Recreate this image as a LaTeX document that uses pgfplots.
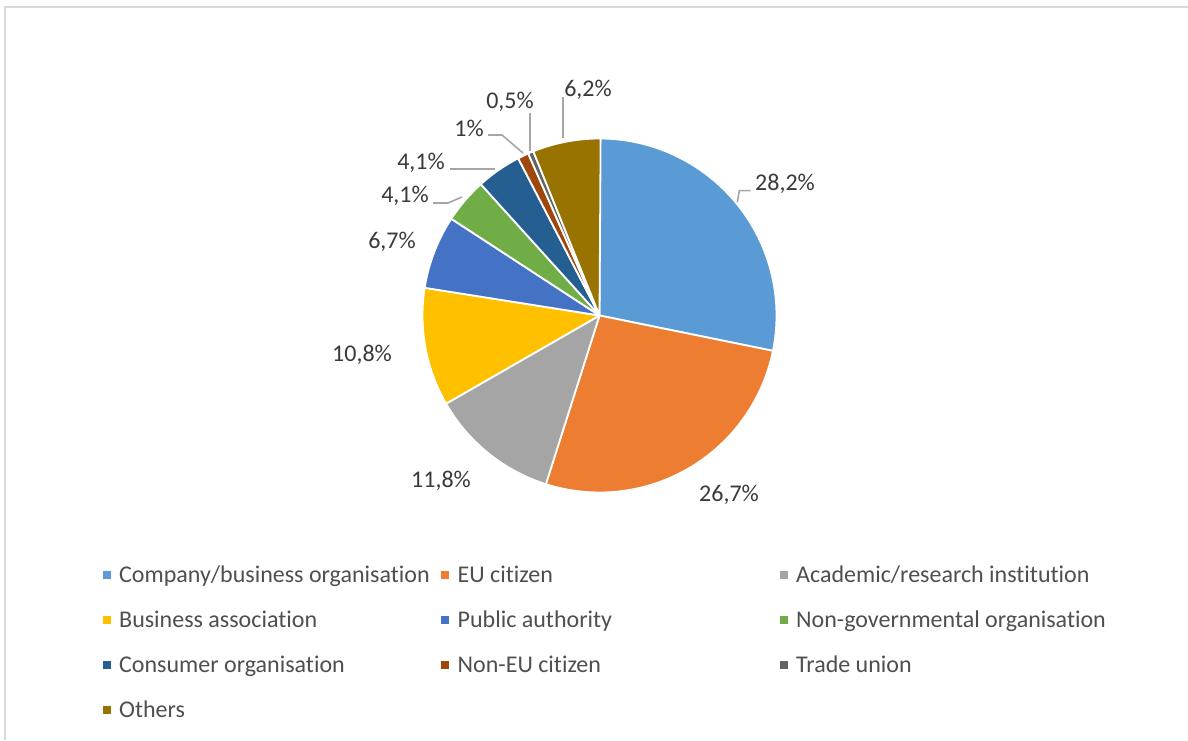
\documentclass[border=0pt]{standalone}
\usepackage{fontspec}
\setmainfont{Carlito}[Ligatures=NoCommon]
\usepackage{pgfplots}
\pgfplotsset{compat=1.18}
\definecolor{cA}{HTML}{5B9BD5}
\definecolor{cB}{HTML}{ED7D31}
\definecolor{cC}{HTML}{A5A5A5}
\definecolor{cD}{HTML}{FFC000}
\definecolor{cE}{HTML}{4472C4}
\definecolor{cF}{HTML}{70AD47}
\definecolor{cG}{HTML}{255E91}
\definecolor{cH}{HTML}{9E480E}
\definecolor{cI}{HTML}{636363}
\definecolor{cJ}{HTML}{997300}
\definecolor{lbltext}{HTML}{3A3A3A}
\definecolor{legtext}{HTML}{4F4F4F}
\definecolor{leader}{HTML}{A6A6A6}
\definecolor{frame}{HTML}{D9D9D9}
% pie centre and radius in pixel units
\def\cx{599.5}
\def\cy{424.5}
\def\rr{177}
% \slice{colour}{cumulative share before}{share}
\newcommand{\slice}[3]{%
  \pgfmathsetmacro\sa{90-3.6*(#2+#3)}%
  \pgfmathsetmacro\sb{90-3.6*(#2)}%
  \addplot[fill=#1, draw=white, line width=1.8pt, line join=round, domain=\sa:\sb, samples=90, variable=\t]
    ({\cx+\rr*cos(\t)},{\cy+\rr*sin(\t)}) -- (\cx,\cy) -- cycle;
}
\newcommand{\lab}[3]{\node[anchor=base, text=lbltext, font=\fontsize{24}{28}\selectfont, inner sep=0pt] at (#1,{740-#2-7.6}) {#3};}
\newcommand{\leg}[1]{\hspace*{8.5pt}\makebox[322pt][l]{#1}}
\begin{document}
\begin{tikzpicture}
\useasboundingbox (0,0) rectangle (1188pt,740pt);
\fill[white] (0,0) rectangle (1188pt,740pt);
\draw[frame, line width=2pt] (5.3pt,0) -- (5.3pt,732.8pt) -- (1188pt,732.8pt);
\begin{axis}[
  x=1pt, y=1pt, xmin=0, xmax=1188, ymin=0, ymax=740,
  anchor=origin, at={(0pt,0pt)},
  hide axis, clip=false,
  legend columns=3,
  legend cell align=left,
  legend image code/.code={\fill[#1, draw=none] (0pt,-4pt) rectangle (8pt,4pt);},
  legend style={at={(axis cs:102.7,176)}, anchor=north west, draw=none, fill=none,
    inner sep=0pt, outer sep=0pt, row sep=23pt, column sep=0pt,
    cells={anchor=west},
    nodes={inner sep=0pt, outer sep=0pt, text height=18.6pt, text depth=3.4pt,
      text=legtext, font=\fontsize{24}{28}\selectfont}},
]
\slice{cA}{0}{28.2}\addlegendentry{\leg{Company/business organisation}}
\slice{cB}{28.2}{26.7}\addlegendentry{\leg{EU citizen}}
\slice{cC}{54.9}{11.8}\addlegendentry{\leg{Academic/research institution}}
\slice{cD}{66.7}{10.8}\addlegendentry{\leg{Business association}}
\slice{cE}{77.5}{6.7}\addlegendentry{\leg{Public authority}}
\slice{cF}{84.2}{4.1}\addlegendentry{\leg{Non-governmental organisation}}
\slice{cG}{88.3}{4.1}\addlegendentry{\leg{Consumer organisation}}
\slice{cH}{92.4}{1.0}\addlegendentry{\leg{Non-EU citizen}}
\slice{cI}{93.4}{0.5}\addlegendentry{\leg{Trade union}}
\slice{cJ}{93.9}{6.2}\addlegendentry{\leg{Others}}
% leader lines
\draw[leader, line width=1.6pt] (737.3,537.7) -- (739.3,549.3) -- (750.7,549.3);
\draw[leader, line width=1.6pt] (433,537) -- (448,537) -- (462,543);
\draw[leader, line width=1.6pt] (450,571) -- (495,571);
\draw[leader, line width=1.6pt] (488,605) -- (502,605) -- (523,587);
\draw[leader, line width=1.6pt] (530,627) -- (530,589);
\draw[leader, line width=1.6pt] (563,643) -- (563,602);
% data labels
\lab{785}{183}{28,2\%}
\lab{729}{494}{26,7\%}
\lab{441}{480}{11,8\%}
\lab{362}{354}{10,8\%}
\lab{392}{241}{6,7\%}
\lab{405}{195}{4,1\%}
\lab{421}{162}{4,1\%}
\lab{469}{129}{1\%}
\lab{510}{101}{0,5\%}
\lab{588}{89}{6,2\%}
\end{axis}
\end{tikzpicture}
\end{document}
